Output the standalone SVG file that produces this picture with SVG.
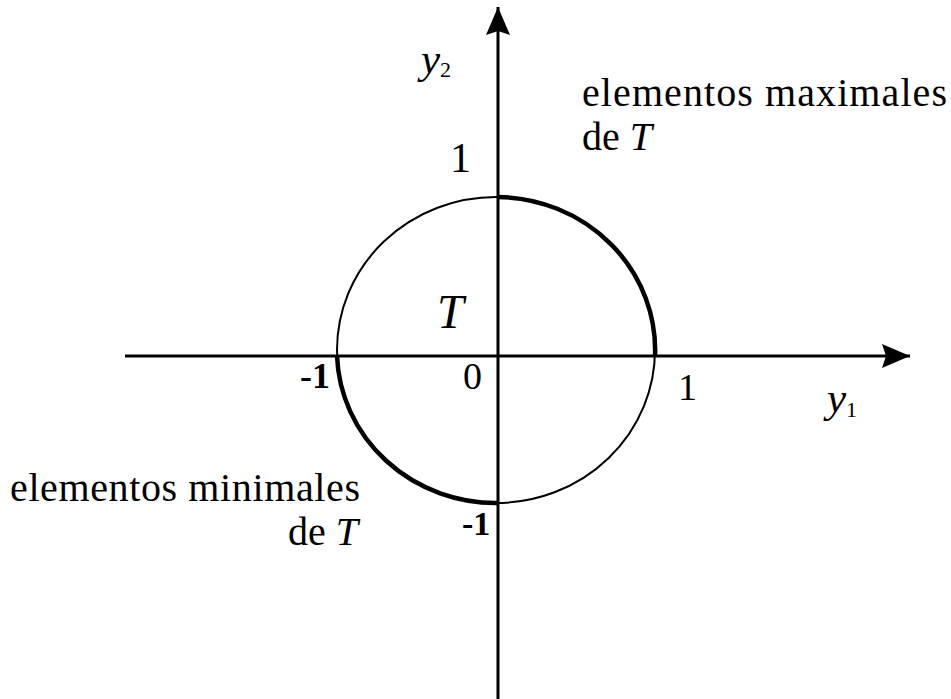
<svg xmlns="http://www.w3.org/2000/svg" width="951" height="699" viewBox="0 0 951 699">
<style>
.txt{font-family:"Liberation Serif","Times New Roman",serif;fill:#000}
.it{font-style:italic}
.axis{stroke:#000;stroke-width:3;fill:none}
.thin{stroke:#000;stroke-width:2;fill:none}
.thick{stroke:#000;stroke-width:4.5;fill:none}
</style>
<defs>
<marker id="arrow" markerUnits="userSpaceOnUse" markerWidth="28" markerHeight="24" refX="28" refY="12" orient="auto">
<path d="M0,0 L28,12 L0,24 L4,12 z" fill="#000"/>
</marker>
</defs>
<rect width="951" height="699" fill="#fff"/>
<g id="connectors">
<line class="axis" x1="125" y1="356" x2="910" y2="356" marker-end="url(#arrow)"/>
<line class="axis" x1="498" y1="699" x2="498" y2="7" marker-end="url(#arrow)"/>
</g>
<g id="set-T">
<ellipse class="thin" cx="496" cy="350" rx="159" ry="153"/>
<path class="thick" d="M498 197 A159 153 0 0 1 655 356"/>
<path class="thick" d="M337 356 A159 153 0 0 0 498 503"/>
<text class="txt it" x="437" y="328" font-size="48">T</text>
</g>
<g id="axis-labels">
<text class="txt it" x="421" y="73" font-size="43">y<tspan font-size="22" font-style="normal" dy="4">2</tspan></text>
<text class="txt it" x="827" y="412" font-size="43">y<tspan font-size="22" font-style="normal" dy="5">1</tspan></text>
<text class="txt" x="450" y="172" font-size="42">1</text>
<text class="txt" x="300" y="388" font-size="36" font-weight="bold">-1</text>
<text class="txt" x="463" y="389" font-size="38">0</text>
<text class="txt" x="678" y="400" font-size="38">1</text>
<text class="txt" x="462" y="535" font-size="34" font-weight="bold">-1</text>
</g>
<g id="label-max">
<text class="txt" x="582" y="106" font-size="40" textLength="365" lengthAdjust="spacing">elementos maximales</text>
<text class="txt" x="582" y="150" font-size="40">de <tspan class="it">T</tspan></text>
</g>
<g id="label-min">
<text class="txt" x="10" y="501" font-size="40" textLength="350" lengthAdjust="spacing">elementos minimales</text>
<text class="txt" x="288" y="545" font-size="40">de <tspan class="it">T</tspan></text>
</g>
</svg>
